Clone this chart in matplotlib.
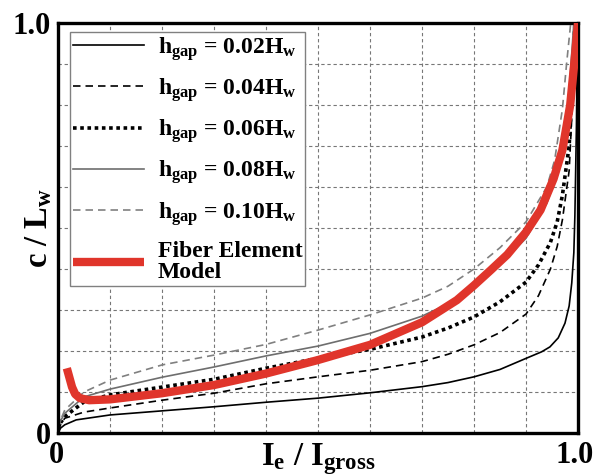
import matplotlib
matplotlib.use("Agg")
import matplotlib.pyplot as plt
import matplotlib.transforms as mtransforms
import numpy as np

plt.rcParams['font.family'] = 'Liberation Serif'
plt.rcParams['font.weight'] = 'bold'
plt.rcParams['mathtext.fontset'] = 'custom'
plt.rcParams['mathtext.rm'] = 'Liberation Serif:bold'
plt.rcParams['mathtext.it'] = 'Liberation Serif:bold'
plt.rcParams['mathtext.bf'] = 'Liberation Serif:bold'

# h_gap = 0.02 Hw
x02 = [0, 0.005, 0.013, 0.035, 0.1, 0.2, 0.3, 0.4, 0.5, 0.6, 0.7, 0.75, 0.8, 0.85, 0.9, 0.93, 0.946, 0.962, 0.975, 0.983, 0.988, 0.992, 0.994, 0.997, 0.999]
y02 = [0, 0.012, 0.02, 0.032, 0.044, 0.054, 0.064, 0.075, 0.085, 0.098, 0.113, 0.123, 0.137, 0.155, 0.182, 0.198, 0.21, 0.232, 0.268, 0.31, 0.366, 0.44, 0.53, 0.75, 1.0]
# h_gap = 0.04 Hw
x04 = [0, 0.005, 0.013, 0.05, 0.1, 0.2, 0.3, 0.4, 0.5, 0.6, 0.7, 0.75, 0.8, 0.85, 0.9, 0.924, 0.947, 0.96, 0.97, 0.983, 0.99, 0.995]
y04 = [0.005, 0.02, 0.036, 0.051, 0.061, 0.08, 0.097, 0.12, 0.137, 0.153, 0.174, 0.192, 0.215, 0.245, 0.29, 0.335, 0.4, 0.455, 0.52, 0.64, 0.82, 1.0]
# h_gap = 0.06 Hw
x06 = [0, 0.005, 0.013, 0.05, 0.1, 0.2, 0.3, 0.4, 0.5, 0.6, 0.7, 0.75, 0.8, 0.85, 0.9, 0.924, 0.947, 0.96, 0.97, 0.983, 0.99, 0.994]
y06 = [0.008, 0.025, 0.04, 0.076, 0.093, 0.112, 0.131, 0.158, 0.182, 0.204, 0.234, 0.256, 0.283, 0.32, 0.368, 0.41, 0.465, 0.515, 0.58, 0.7, 0.88, 1.0]
# h_gap = 0.08 Hw
x08 = [0, 0.005, 0.013, 0.05, 0.1, 0.2, 0.3, 0.4, 0.5, 0.6, 0.7, 0.75, 0.8, 0.85, 0.9, 0.94, 0.965, 0.98, 0.992]
y08 = [0.01, 0.03, 0.048, 0.088, 0.107, 0.136, 0.161, 0.188, 0.212, 0.243, 0.285, 0.315, 0.355, 0.41, 0.475, 0.56, 0.65, 0.78, 1.0]
# h_gap = 0.10 Hw
x10 = [0, 0.005, 0.013, 0.05, 0.1, 0.2, 0.3, 0.4, 0.5, 0.6, 0.7, 0.75, 0.8, 0.85, 0.9, 0.94, 0.955, 0.97, 0.978, 0.986]
y10 = [0.01, 0.032, 0.056, 0.1, 0.129, 0.166, 0.19, 0.216, 0.251, 0.288, 0.329, 0.358, 0.4, 0.452, 0.515, 0.6, 0.665, 0.79, 0.9, 1.0]
# Fiber element model
xfe = [0.017, 0.022, 0.027, 0.033, 0.042, 0.06, 0.1, 0.2, 0.3, 0.4, 0.5, 0.6, 0.7, 0.767, 0.8, 0.832, 0.864, 0.9, 0.928, 0.953, 0.97, 0.985, 0.995, 1.0]
yfe = [0.158, 0.135, 0.112, 0.095, 0.085, 0.08, 0.082, 0.097, 0.117, 0.145, 0.178, 0.215, 0.27, 0.324, 0.36, 0.397, 0.435, 0.49, 0.544, 0.62, 0.69, 0.8, 0.93, 1.0]

labels = [r'h$_{\mathrm{gap}}$ = 0.02H$_{\mathrm{w}}$',
          r'h$_{\mathrm{gap}}$ = 0.04H$_{\mathrm{w}}$',
          r'h$_{\mathrm{gap}}$ = 0.06H$_{\mathrm{w}}$',
          r'h$_{\mathrm{gap}}$ = 0.08H$_{\mathrm{w}}$',
          r'h$_{\mathrm{gap}}$ = 0.10H$_{\mathrm{w}}$',
          'Fiber Element\nModel']

fig = plt.figure(figsize=(5.95, 4.76), dpi=100)
ax = fig.add_axes([58/595, 43/476, 520/595, 410/476])

ax.plot(x02, y02, color='black', lw=1.2, label=labels[0])
ax.plot(x04, y04, color='black', lw=1.2, linestyle=(0, (4.5, 3)), label=labels[1])
ax.plot(x06, y06, color='black', lw=2.6, linestyle=(0, (1, 1)), label=labels[2])
ax.plot(x08, y08, color='#6e6e6e', lw=1.2, label=labels[3])
ax.plot(x10, y10, color='#808080', lw=1.2, linestyle=(0, (4.5, 3)), label=labels[4])
ax.plot(xfe, yfe, color='#e0352b', lw=6, solid_capstyle='butt', solid_joinstyle='round',
        label=labels[5], zorder=5)

ax.set_xlim(0, 1)
ax.set_ylim(0, 1)
ticks = np.round(np.arange(0, 1.01, 0.1), 1)
ticklabels = ['0'] + [''] * 9 + ['1.0']
ax.set_xticks(ticks)
ax.set_xticklabels(ticklabels, fontsize=22, fontweight='bold')
ax.set_yticks(ticks)
ax.set_yticklabels(ticklabels, fontsize=22, fontweight='bold')
ax.tick_params(axis='x', length=0, pad=6)
ax.tick_params(axis='y', length=0, pad=5)
xl = ax.get_xticklabels()
xl[0].set_transform(xl[0].get_transform() + mtransforms.ScaledTranslation(-2/100, 0, fig.dpi_scale_trans))
xl[-1].set_transform(xl[-1].get_transform() + mtransforms.ScaledTranslation(-3/100, 0, fig.dpi_scale_trans))
ax.grid(True, color='#777777', lw=0.8, linestyle=(0, (3, 2.5)))
for s in ax.spines.values():
    s.set_linewidth(2.4)

ax.set_xlabel(r'I$_{\mathrm{e}}$ / I$_{\mathrm{gross}}$', fontsize=23.5, fontweight='bold', labelpad=-21)
ax.set_ylabel(r'c / L$_{\mathrm{w}}$', fontsize=23.5, fontweight='bold', labelpad=-30)

leg = ax.legend(loc='upper left', bbox_to_anchor=(0.023, 0.978), borderaxespad=0,
                handlelength=3.0, handletextpad=0.6, labelspacing=0.57,
                borderpad=0.12, fancybox=False, framealpha=1, edgecolor='#808080',
                prop={'family': 'Liberation Serif', 'weight': 'bold', 'size': 17})
leg.get_frame().set_linewidth(1.0)
leg.get_texts()[5].set_linespacing(1.0)

fig.savefig('out.png', dpi=100)
